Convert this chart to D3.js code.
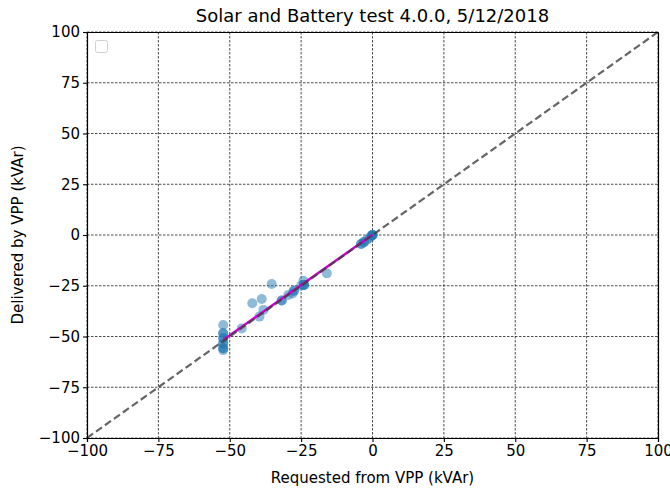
<!DOCTYPE html>
<html>
<head>
<meta charset="utf-8">
<script src="https://cdn.jsdelivr.net/npm/d3@7"></script>
<style>
  body { margin: 0; background: #fff; }
  text { font-family: "DejaVu Sans", sans-serif; }
</style>
</head>
<body>
<script>
// data (kVAr)
var requested = [0, 0, 0, 0, -0.5, -1, -2, -3, -3, -4, -4, -16, -35.3, -24.2, -24, -24, -24, -25,
  -27.5, -27.5, -28, -29.5, -31.8, -31.8, -38.8, -42.1, -38.2, -39.6, -45.8,
  -52.3, -52.3, -52.3, -52.3, -52.3, -52.3, -52.3, -52.3, -52.3, -52.3]
var delivered = [0, 0, 0, 0, -0.5, -1.5, -2.5, -3.5, -3.5, -4.4, -4.4, -18.9, -24.1, -22.5, -24.6, -24.6, -24.6, -25,
  -27.5, -27.5, -28.8, -29.6, -32.3, -32.3, -31.5, -33.6, -36.9, -40.2, -46,
  -44.3, -48.4, -48.4, -50.9, -50.9, -53.4, -53.4, -55.8, -55.8, -56.7]
var fitLine = [[-52.3, -51.7], [0, 0.1]]
var ticks = [-100, -75, -50, -25, 0, 25, 50, 75, 100]

var margin = {left: 87, top: 32}, w = 571, h = 406

var svg = d3.select("body").append("svg")
    .attr("width", 670)
    .attr("height", 490)

var x = d3.scaleLinear().domain([-100, 100]).range([0, w])
var y = d3.scaleLinear().domain([-100, 100]).range([h, 0])

var g = svg.append("g").attr("transform", "translate(" + margin.left + "," + margin.top + ")")

//grid
g.selectAll(".vgrid").data(ticks).enter().append("line")
  .attr("x1", d => x(d)).attr("x2", d => x(d))
  .attr("y1", 0).attr("y2", h)
  .style("stroke", "#222").style("stroke-width", 0.8).style("stroke-dasharray", "2.5,1.5")
g.selectAll(".hgrid").data(ticks).enter().append("line")
  .attr("y1", d => y(d)).attr("y2", d => y(d))
  .attr("x1", 0).attr("x2", w)
  .style("stroke", "#222").style("stroke-width", 0.8).style("stroke-dasharray", "2.5,1.5")

//scatter
g.selectAll("circle").data(requested).enter().append("circle")
  .attr("cx", d => x(d))
  .attr("cy", (d, i) => y(delivered[i]))
  .attr("r", 5)
  .style("fill", "#1f77b4")
  .style("opacity", 0.5)

//fit line
var line = d3.line().x(d => x(d[0])).y(d => y(d[1]))
g.append("path").datum(fitLine)
  .attr("d", line)
  .style("fill", "none").style("stroke", "#cc00cc").style("stroke-width", 2.5)

//y = x reference
g.append("path").datum([[-100, -100], [100, 100]])
  .attr("d", line)
  .style("fill", "none").style("stroke", "#404040").style("stroke-opacity", 0.8)
  .style("stroke-width", 2.2).style("stroke-dasharray", "7.4,3.6")

//axes
var fmt = d => d < 0 ? "\u2212" + (-d) : d
g.append("g").attr("transform", "translate(0," + h + ")")
  .call(d3.axisBottom(x).tickValues(ticks).tickSize(4).tickPadding(3).tickFormat(fmt))
g.append("g")
  .call(d3.axisLeft(y).tickValues(ticks).tickSize(4).tickPadding(3).tickFormat(fmt))
g.append("g").attr("transform", "translate(" + w + ",0)").call(d3.axisRight(y).tickValues([]).tickSizeOuter(0))
g.append("g").call(d3.axisTop(x).tickValues([]).tickSizeOuter(0))
g.selectAll(".domain").style("stroke", "#000").style("stroke-width", 1.2)
g.selectAll(".tick line").style("stroke-width", 1.1)
g.selectAll(".tick text").style("font-size", "15px").style("font-family", "DejaVu Sans").style("fill", "#000")

//empty legend
g.append("rect")
  .attr("x", 8.5).attr("y", 8.5).attr("width", 12).attr("height", 12).attr("rx", 2)
  .style("fill", "#fff").style("stroke", "#d0d0d0").style("stroke-width", 1)

//labels
svg.append("text").attr("x", margin.left + w / 2).attr("y", 22)
  .attr("text-anchor", "middle").style("font-size", "18px").text("Solar and Battery test 4.0.0, 5/12/2018")
svg.append("text").attr("x", margin.left + w / 2).attr("y", 483)
  .attr("text-anchor", "middle").style("font-size", "15px").text("Requested from VPP (kVAr)")
svg.append("text").attr("transform", "translate(23," + (margin.top + h / 2) + ") rotate(-90)")
  .attr("text-anchor", "middle").style("font-size", "15px").text("Delivered by VPP (kVAr)")
</script>
</body>
</html>
